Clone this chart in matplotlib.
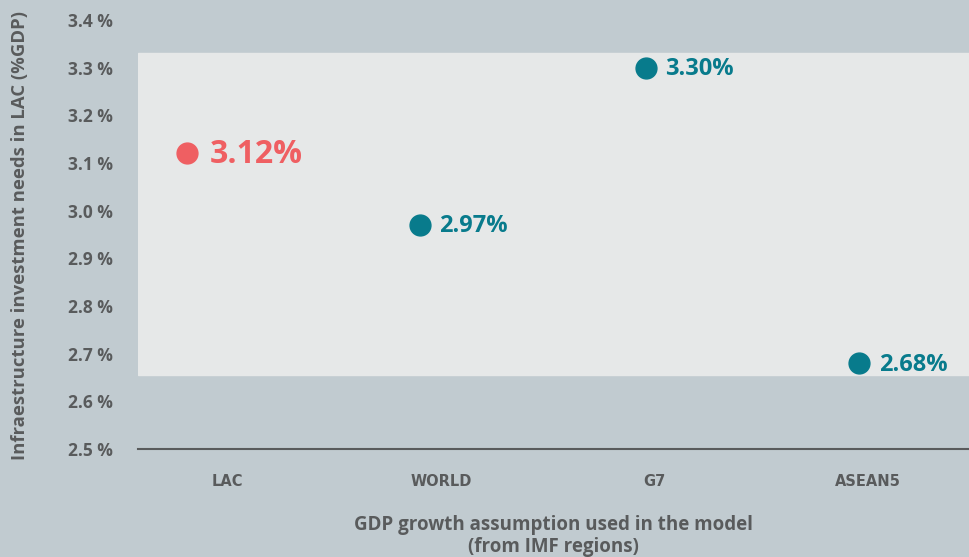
import matplotlib
matplotlib.use("Agg")
import matplotlib.pyplot as plt
from matplotlib import font_manager as fm
import numpy as np

categories = ["LAC", "WORLD", "G7", "ASEAN5"]
values = [3.12, 2.97, 3.30, 2.68]
point_x = [-0.19, 0.90, 1.96, 2.96]
y_ticks = [2.5, 2.6, 2.7, 2.8, 2.9, 3.0, 3.1, 3.2, 3.3, 3.4]
band = (2.655, 3.33)

plt.rcParams['font.family'] = ['Open Sans', 'DejaVu Sans']
bold_file = None
for f in fm.fontManager.ttflist:
    if f.fname.endswith("OpenSans-Bold.ttf"):
        bold_file = f.fname
def fp(size):
    if bold_file:
        return fm.FontProperties(fname=bold_file, size=size)
    return fm.FontProperties(family='Open Sans', weight='bold', size=size)

BG = "#c1cbd0"
PANEL = "#e6e8e8"
TEAL = "#087b8c"
RED = "#ef5f62"
GRAY = "#595b5c"

fig = plt.figure(figsize=(9.69, 5.57), dpi=100, facecolor=BG)
ax = fig.add_axes([138/969, 1-449/557, 1-138/969, 449/557])
ax.set_facecolor(BG)
ax.set_xlim(-0.42, 3.474)
ax.set_ylim(2.5, 3.442)
ax.axhspan(band[0], band[1], color=PANEL, zorder=0)

for i, (x, v) in enumerate(zip(point_x, values)):
    highlight = i == 0
    c = RED if highlight else TEAL
    ax.plot(x, v, 'o', ms=15, color=c, zorder=3, clip_on=False)
    ax.annotate(f"{v:.2f}%", (x, v), xytext=(16 if highlight else 14, -1), textcoords='offset points',
                ha='left', va='center', color=c, fontproperties=fp(23 if highlight else 17), zorder=4)

ax.set_xticks(range(len(categories)))
ax.set_xticklabels(categories,
                   fontproperties=fm.FontProperties(family='DejaVu Sans', weight='bold', size=10.5))
ax.set_yticks(y_ticks)
ax.set_yticklabels([f"{t:.1f} %" for t in y_ticks], fontproperties=fp(12.5))
ax.tick_params(axis='both', length=0, colors=GRAY)
ax.tick_params(axis='y', pad=18)
ax.tick_params(axis='x', pad=18)
for s in ['top', 'right', 'left']:
    ax.spines[s].set_visible(False)
ax.spines['bottom'].set_color(GRAY)
ax.spines['bottom'].set_linewidth(1.5)

ax.set_xlabel("GDP growth assumption used in the model\n(from IMF regions)",
              fontproperties=fp(13.5), color=GRAY, labelpad=19, linespacing=1.1)
fig.text(20/969, 1-236/557, "Infraestructure investment needs in LAC (%GDP)",
         rotation=90, ha='center', va='center', fontproperties=fp(13.3), color=GRAY)

fig.savefig("out.png", dpi=100, facecolor=BG)
